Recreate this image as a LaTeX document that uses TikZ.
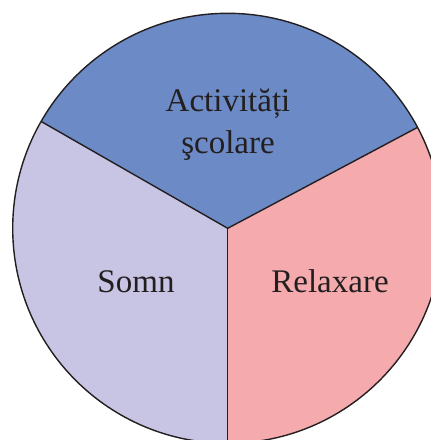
\documentclass[tikz,border=0pt]{standalone}
\usepackage{fontspec}
\setmainfont{Liberation Serif}
\usetikzlibrary{calc}
\definecolor{blueS}{HTML}{6C8AC6}
\definecolor{lavS}{HTML}{C8C4E3}
\definecolor{pinkS}{HTML}{F5AAAD}
\definecolor{ink}{HTML}{231F20}
\tikzset{
  sector/.style={draw=ink, line width=1.4pt, line join=round},
  lbl/.style={text=ink, font=\fontsize{33}{42}\selectfont, anchor=base, inner sep=0pt, align=center}
}
\begin{document}
\begin{tikzpicture}[x=1pt,y=1pt]
\useasboundingbox (0,0) rectangle (431,440);
\clip (0,0) rectangle (431,440);
\coordinate (c) at (227.7,211.7);
\coordinate (pr) at ($(c)+(28:215)$);
\coordinate (pl) at ($(c)+(150.2:215)$);
\coordinate (pb) at ($(c)+(270:215)$);
\fill[blueS] (c) -- (pr) arc[start angle=28, end angle=150.2, radius=215] -- cycle;
\fill[lavS] (c) -- (pl) arc[start angle=150.2, end angle=270, radius=215] -- cycle;
\fill[pinkS] (c) -- (pb) arc[start angle=270, end angle=388, radius=215] -- cycle;
\draw[sector] (c) circle[radius=215];
\draw[sector] (pl) -- (c) -- (pr);
\draw[sector] (c) -- (pb);
\node[lbl] (act) at (228,328) {Activități};
\node[lbl] (sco) at (228,286) {şcolare};
\node[lbl] (somn) at (136,147) {Somn};
\node[lbl] (rel) at (330,147) {Relaxare};
\end{tikzpicture}
\end{document}
